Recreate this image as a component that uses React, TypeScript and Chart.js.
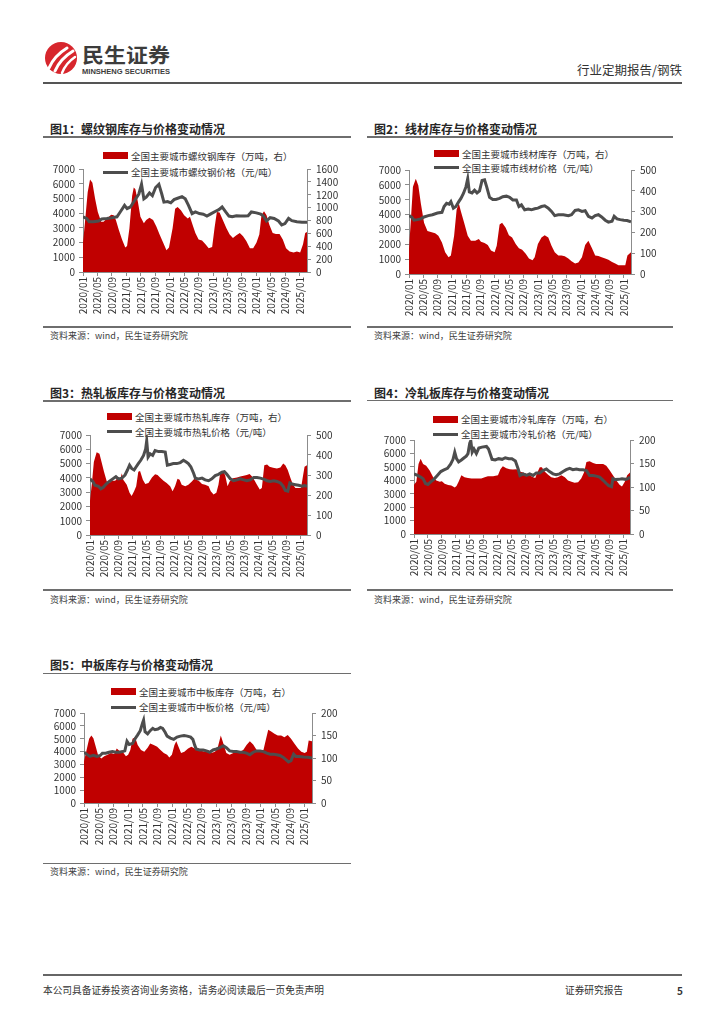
import React, { useEffect, useRef } from "react";
import { Chart, registerables } from "chart.js";

Chart.register(...registerables);

const FONT = "'Noto Sans CJK SC', 'Noto Sans', sans-serif";
Chart.defaults.font.family = FONT;

// ---------- shared axis data ----------
const xTickLabels = [
  "2020/01", "2020/05", "2020/09", "2021/01", "2021/05", "2021/09", "2022/01", "2022/05",
  "2022/09", "2023/01", "2023/05", "2023/09", "2024/01", "2024/05", "2024/09", "2025/01",
];
const X_LAST_MONTH = 62; // months after 2020/01 covered by the series
const leftMax = 7000;
const leftStep = 1000;

// ---------- 图1 螺纹钢 (month offset from 2020/01) ----------
const rebarInvMonth = [0,0.56,1.3,1.95,2.6,3.35,4.1,5.03,5.68,6.6,7.8,8.5,9.1,9.9,10.8,11.7,12.2,12.85,13.6,14.05,14.5,15.2,15.9,16.85,17.5,18.4,19.4,20.3,21.2,22.2,23.1,23.8,24.8,25.5,26.2,27.1,28.0,29.0,29.6,30.35,31.1,32.0,32.95,33.9,34.8,35.75,36.4,37.05,37.8,38.7,39.7,40.6,41.5,42.45,43.4,44.3,45.2,46.2,47.1,48.0,48.8,49.4,50.1,50.8,51.6,52.5,53.4,54.4,55.3,56.2,57.2,58.3,59.2,60.1,60.9,61.5,62];
const rebarInv = [455,782,1237,1438,1387,1136,933,782,782,832,891,882,807,656,505,379,405,681,1186,1312,1287,1086,857,757,807,843,807,706,581,455,338,379,681,983,1010,960,882,832,857,731,606,505,489,430,368,389,681,933,923,807,681,581,530,571,606,555,480,368,368,455,581,882,944,882,731,606,590,590,505,368,318,302,318,302,430,606,622];
const rebarPriceMonth = [0,1.0,1.7,2.9,4.3,5.2,6.6,8.0,9.4,10.3,11.5,12.2,13.1,14.3,15.45,16.2,16.85,17.5,18.4,19.2,20.1,21.0,21.8,22.4,23.4,24.3,25.2,26.2,27.4,28.3,29.2,30.2,31.1,32.2,33.3,34.3,35.5,36.7,37.6,38.5,39.5,40.4,41.3,42.45,43.6,44.8,45.7,46.6,48.0,49.2,49.9,50.8,51.8,52.9,54.1,55.0,55.9,56.9,57.8,59.2,60.6,62];
const rebarPrice = [3750,3640,3420,3420,3470,3600,3640,3690,3750,4080,4530,4310,4420,4860,5300,5960,4970,5080,5370,5190,5740,5960,5300,4750,4790,4700,4920,5010,5120,4970,4530,3970,4080,3970,3930,3800,3970,4130,4240,4420,4080,3800,3750,3820,3800,3800,3820,4080,4020,3930,3820,3470,3690,3640,3470,3200,3290,3640,3490,3420,3380,3380];

// ---------- 图2 线材 ----------
const wireInvMonth = [0,0.47,1.1,1.9,2.6,3.3,4.2,5.15,6.1,7.3,8.2,9.2,10.1,11.05,11.7,12.6,13.3,13.9,14.5,15.4,16.4,17.3,18.5,19.5,20.1,21.1,22.0,22.9,23.9,24.5,25.3,26.0,27.0,27.9,28.8,29.8,30.7,31.6,32.6,33.5,34.5,35.1,36.0,37.0,37.9,38.9,39.8,40.7,41.7,42.6,43.5,44.5,45.4,46.4,47.3,48.3,49.2,50.1,51.1,52.0,52.9,53.8,54.8,55.7,56.7,57.6,58.5,59.5,60.4,61.0,62];
const wireInv = [121,246,419,458,426,340,246,207,202,196,184,152,105,81,89,184,309,340,301,246,184,160,160,168,155,149,139,113,105,136,238,246,222,186,176,144,124,117,97,74,66,81,144,176,186,176,136,105,89,89,85,74,61,50,55,81,139,160,124,89,86,81,74,69,58,50,42,42,42,89,105];
const wirePriceMonth = [0,0.75,1.4,2.3,3.3,4.2,5.4,6.55,7.95,9.2,9.8,10.5,11.2,11.7,12.4,13.1,13.9,14.5,15.2,15.9,16.4,16.85,17.6,18.3,19.0,19.7,20.4,21.1,21.7,22.5,23.4,24.3,25.3,26.2,27.2,28.1,29.0,30.0,30.7,31.4,32.3,33.3,34.2,35.1,36.0,37.0,37.9,38.9,39.8,40.7,41.7,43.1,44.5,45.4,46.4,47.3,48.3,49.2,50.1,51.1,52.0,52.9,53.8,54.8,55.7,56.7,57.3,58.1,59.0,60.0,60.9,62];
const wirePrice = [3930,3820,3620,3660,3710,3840,3930,3990,4100,4150,4540,4760,4700,4870,4430,4540,4870,5090,5420,5860,6410,5530,5460,5640,5460,5590,6300,6340,5860,5160,5020,5020,5090,5200,5240,5160,4980,4980,4540,4650,4320,4370,4320,4390,4430,4540,4590,4430,4210,3930,3990,3990,3930,3990,4280,4320,4210,4260,3880,3770,3930,3990,3840,3620,3490,3550,3880,3710,3660,3620,3600,3510];

// ---------- 图3 热轧 ----------
const hrInvMonth = [0,0.5,1.1,1.9,2.7,3.3,4.0,4.8,5.5,6.2,7.2,7.8,8.6,9.1,9.5,10.5,11.3,11.9,12.6,13.2,13.8,14.3,15.1,15.8,16.7,17.7,18.6,19.3,20.0,21.0,21.9,22.9,23.6,24.3,25.0,25.6,26.2,27.2,28.1,29.1,29.8,30.5,31.3,32.0,32.9,33.9,34.5,35.3,36.1,36.7,37.2,38.0,38.6,39.3,39.9,40.8,42.0,42.9,43.9,44.8,45.6,46.3,46.9,47.7,48.5,49.1,49.8,50.6,51.3,52.3,53.4,54.4,55.2,55.8,56.5,57.3,58.0,58.7,59.6,60.3,60.9,61.3,62];
const hrInv = [171,251,365,414,406,365,316,268,260,271,271,284,276,309,276,251,211,195,219,244,316,320,276,255,260,287,304,300,287,271,260,244,219,244,281,276,251,244,251,268,281,276,268,255,251,244,219,203,211,251,309,316,300,244,268,284,287,292,296,300,305,292,276,251,227,235,349,353,341,336,333,338,357,349,325,284,251,235,235,235,300,341,349];
const hrPriceMonth = [0,0.8,1.4,2.4,3.1,3.8,4.6,5.5,6.5,7.4,8.1,9.1,10.0,10.7,11.3,11.9,12.6,13.2,13.8,14.5,15.3,15.9,16.2,16.6,17.2,17.9,18.6,19.6,20.5,21.5,22.1,22.9,23.8,24.8,25.8,26.7,27.5,28.1,28.8,29.6,30.1,31.0,32.0,32.9,33.9,34.8,35.8,36.7,37.7,38.4,39.1,40.1,41.0,42.0,42.9,43.9,44.8,45.8,46.8,47.7,48.7,49.6,50.6,51.5,52.5,53.4,54.4,55.2,55.8,56.5,57.1,57.7,58.7,59.6,60.6,61.3,62];
const hrPrice = [3930,3750,3480,3410,3230,3340,3570,3750,3930,4090,3930,3980,4200,4550,4890,4660,4550,4780,5000,5230,5570,6020,6590,5460,5680,5570,5910,5840,5840,5800,4890,4940,5000,5000,5070,5230,5110,5000,4780,4320,3980,3930,3980,3860,3800,3930,4160,4250,4390,4430,4250,3930,3800,3860,3930,3860,3800,3860,4020,4020,3980,3910,3800,3750,3800,3750,3640,3410,3110,3070,3640,3570,3520,3480,3410,3460,3410];

// ---------- 图4 冷轧 ----------
const crInvMonth = [0,0.67,1.3,1.9,2.6,3.5,4.5,5.5,6.4,7.4,8.0,8.8,9.8,10.7,11.7,12.2,12.8,13.6,14.5,15.5,16.5,17.9,19.3,20.3,21.2,22.7,24.1,24.8,25.5,26.5,27.5,28.4,29.4,30.3,31.3,32.3,33.2,34.2,34.8,35.4,36.1,36.7,37.5,38.5,39.4,40.4,41.3,42.3,43.3,44.2,45.2,46.1,47.1,48.0,48.8,49.5,50.4,51.4,52.3,53.3,54.3,55.2,56.2,57.1,58.1,59.0,59.7,60.5,61.2,62];
const crInv = [105,111,149,160,149,145,135,121,114,111,112,107,104,103,99,102,111,125,121,119,118,118,118,121,123,123,125,138,144,140,138,137,138,133,131,128,125,121,119,131,142,142,133,126,121,119,121,125,121,114,111,109,110,118,131,153,155,151,149,149,149,145,135,125,114,105,101,111,125,131];
const crPriceMonth = [0,1.0,1.9,2.6,3.3,4.0,4.8,5.7,6.7,7.7,8.6,9.6,10.5,11.2,11.7,12.2,12.8,13.6,14.4,15.0,15.5,16.0,16.3,16.7,17.2,17.9,18.6,19.5,20.8,21.4,22.4,23.3,24.3,25.3,26.2,27.2,28.1,29.1,29.9,30.4,31.3,32.3,33.2,34.2,35.1,36.1,37.0,38.0,38.9,39.9,40.8,41.8,42.8,43.7,44.7,45.6,46.6,47.5,48.5,49.5,50.4,51.4,52.3,53.3,54.3,55.2,55.9,56.7,57.1,57.8,58.8,59.7,60.7,61.4,62];
const crPrice = [4480,4360,4240,4120,3760,3690,3880,4070,4360,4650,4770,4890,5200,5560,6090,5610,5370,5510,5680,5800,5990,6760,6950,6090,6330,5990,6400,6470,6520,6330,5560,5510,5610,5560,5680,5610,5610,5440,4840,4360,4480,4360,4480,4360,4550,4550,4720,4840,4650,4480,4410,4480,4650,4790,4890,4790,4840,4790,4790,4720,4360,4360,4310,4240,4000,3760,3600,3520,4120,4050,4070,4120,4070,4120,4240];

// ---------- 图5 中板 ----------
const plateInvMonth = [0,0.7,1.4,2.0,2.55,3.2,3.8,4.7,5.5,6.4,7.3,8.2,8.9,9.6,10.5,11.4,12.0,12.6,13.2,13.9,14.6,15.5,16.4,17.3,18.0,18.96,19.9,20.8,21.7,22.6,23.2,23.9,24.6,25.1,25.7,26.4,27.3,28.3,29.2,30.1,31.0,31.9,32.8,33.7,34.6,35.6,36.3,37.2,37.9,38.7,39.6,40.6,41.5,42.4,43.3,44.2,45.1,46.0,46.95,47.9,48.8,49.4,50.1,50.9,51.8,52.7,53.6,54.5,55.4,56.3,57.2,58.2,59.1,60.0,60.6,61.1,62];
const plateInv = [93,118,143,150,144,125,107,99,104,107,111,109,121,116,114,104,107,118,143,146,129,118,114,123,132,129,125,118,111,107,101,107,129,137,125,111,114,121,125,121,118,116,114,118,111,114,121,150,132,111,107,111,111,114,118,129,137,130,118,114,118,139,163,159,154,150,150,146,151,143,132,121,114,111,114,139,137];
const platePriceMonth = [0,0.7,1.6,2.55,3.5,4.4,5.0,5.9,6.8,7.7,8.7,9.6,10.5,11.1,11.7,12.3,13.2,13.9,14.6,15.3,15.95,16.2,16.6,17.3,18.0,18.7,19.3,20.1,20.8,21.4,22.06,22.6,23.5,24.4,25.3,26.2,27.2,28.1,29.0,29.6,30.1,30.5,31.4,32.4,33.3,34.2,35.1,36.0,36.9,37.9,38.7,39.6,40.6,41.5,42.4,43.3,44.2,45.1,46.0,46.95,47.9,48.8,49.7,50.6,51.5,52.4,53.3,54.2,54.9,55.6,56.3,57.0,57.6,58.5,59.7,60.9,62];
const platePrice = [3950,3800,3625,3700,3625,3700,3875,3875,3950,4000,3950,3950,4000,4050,4800,4550,4625,5000,5300,5625,6250,6450,5550,5375,5625,5800,5700,5750,5875,5800,5500,5200,5050,4950,5125,5200,5250,5200,5125,4950,4500,4200,4125,4125,4050,3950,4125,4200,4300,4450,4300,4050,4000,4000,3950,3950,3875,3750,3950,4050,4050,4000,3875,3800,3800,3750,3700,3550,3375,3200,3300,3800,3625,3625,3575,3550,3500];

// ---------- styles ----------
const INV_COLOR = "#C00000";
const PRICE_COLOR = "#4D4D4D";
const AXIS_COLOR = "#8C8C8C";
const TICK_COLOR = "#333333";
const RULE_COLOR = "#6E6E6E";
const TOP_PAD = 8;
const X_AXIS_H = 50;

function zip(xs: number[], ys: number[]) {
  const n = Math.min(xs.length, ys.length);
  const out: { x: number; y: number }[] = [];
  for (let i = 0; i < n; i++) out.push({ x: xs[i], y: ys[i] });
  return out;
}

type PanelCfg = {
  colLeft: number; colRight: number;
  titleY: number; ruleY: number; sepY: number; sourceY: number;
  title: string; invLabel: string; priceLabel: string;
  legendX: number; legendY1: number; legendY2: number;
  plot: { l: number; r: number; t: number; b: number };
  rightMax: number; rightStep: number;
  invMonth: number[]; inv: number[]; priceMonth: number[]; price: number[];
};

const panels: PanelCfg[] = [
  {
    colLeft: 43, colRight: 351, titleY: 129, ruleY: 137, sepY: 327, sourceY: 336,
    title: "图1：螺纹钢库存与价格变动情况",
    invLabel: "全国主要城市螺纹钢库存（万吨，右）", priceLabel: "全国主要城市螺纹钢价格（元/吨）",
    legendX: 103, legendY1: 155.5, legendY2: 172,
    plot: { l: 83, r: 307, t: 166, b: 272 },
    rightMax: 1600, rightStep: 200,
    invMonth: rebarInvMonth, inv: rebarInv, priceMonth: rebarPriceMonth, price: rebarPrice,
  },
  {
    colLeft: 367, colRight: 673, titleY: 129, ruleY: 137, sepY: 327, sourceY: 336,
    title: "图2：线材库存与价格变动情况",
    invLabel: "全国主要城市线材库存（万吨，右）", priceLabel: "全国主要城市线材价格（元/吨）",
    legendX: 434, legendY1: 153.5, legendY2: 167.5,
    plot: { l: 409, r: 631, t: 167, b: 274 },
    rightMax: 500, rightStep: 100,
    invMonth: wireInvMonth, inv: wireInv, priceMonth: wirePriceMonth, price: wirePrice,
  },
  {
    colLeft: 43, colRight: 351, titleY: 393, ruleY: 401, sepY: 590, sourceY: 600,
    title: "图3：热轧板库存与价格变动情况",
    invLabel: "全国主要城市热轧库存（万吨，右）", priceLabel: "全国主要城市热轧价格（元/吨）",
    legendX: 107, legendY1: 416.7, legendY2: 431.7,
    plot: { l: 90, r: 307, t: 432, b: 535 },
    rightMax: 500, rightStep: 100,
    invMonth: hrInvMonth, inv: hrInv, priceMonth: hrPriceMonth, price: hrPrice,
  },
  {
    colLeft: 367, colRight: 673, titleY: 393, ruleY: 400.5, sepY: 590, sourceY: 600,
    title: "图4：冷轧板库存与价格变动情况",
    invLabel: "全国主要城市冷轧库存（万吨，右）", priceLabel: "全国主要城市冷轧价格（元/吨）",
    legendX: 433, legendY1: 419, legendY2: 434.3,
    plot: { l: 414, r: 630, t: 437, b: 534 },
    rightMax: 200, rightStep: 50,
    invMonth: crInvMonth, inv: crInv, priceMonth: crPriceMonth, price: crPrice,
  },
  {
    colLeft: 43, colRight: 351, titleY: 665, ruleY: 673.3, sepY: 863.3, sourceY: 872,
    title: "图5：中板库存与价格变动情况",
    invLabel: "全国主要城市中板库存（万吨，右）", priceLabel: "全国主要城市中板价格（元/吨）",
    legendX: 111, legendY1: 691.7, legendY2: 707.3,
    plot: { l: 84, r: 312, t: 710, b: 803 },
    rightMax: 200, rightStep: 50,
    invMonth: plateInvMonth, inv: plateInv, priceMonth: platePriceMonth, price: platePrice,
  },
];

function T(props: {
  x: number; y: number; size: number; children: React.ReactNode;
  bold?: boolean; color?: string; right?: boolean;
}) {
  const { x, y, size, bold, color, right, children } = props;
  const lh = Math.round(size * 1.3);
  const style: React.CSSProperties = {
    position: "absolute",
    top: y - lh / 2,
    height: lh,
    lineHeight: lh + "px",
    fontSize: size,
    fontWeight: bold ? 700 : 400,
    color: color || "#333",
    whiteSpace: "nowrap",
    fontFamily: FONT,
  };
  if (right) style.right = 724 - x;
  else style.left = x;
  return <div style={style}>{children}</div>;
}

function HLine({ x1, x2, y, color, w }: { x1: number; x2: number; y: number; color: string; w: number }) {
  return (
    <div style={{ position: "absolute", left: x1, top: y - w / 2, width: x2 - x1, height: w, background: color }} />
  );
}

function ChartCanvas({ cfg }: { cfg: PanelCfg }) {
  const ref = useRef<HTMLCanvasElement | null>(null);
  const w = cfg.colRight - cfg.colLeft;
  const h = cfg.plot.b - cfg.plot.t + TOP_PAD + X_AXIS_H;

  useEffect(() => {
    if (!ref.current) return;
    const tickFont = { family: FONT, size: 10 };
    const chart = new Chart(ref.current, {
      type: "line",
      data: {
        datasets: [
          {
            label: cfg.priceLabel,
            data: zip(cfg.priceMonth, cfg.price),
            yAxisID: "y",
            borderColor: PRICE_COLOR,
            backgroundColor: PRICE_COLOR,
            borderWidth: 3,
            pointRadius: 0,
            fill: false,
            tension: 0,
            order: 0,
          },
          {
            label: cfg.invLabel,
            data: zip(cfg.invMonth, cfg.inv),
            yAxisID: "y1",
            borderColor: INV_COLOR,
            backgroundColor: INV_COLOR,
            borderWidth: 0,
            pointRadius: 0,
            fill: "origin",
            tension: 0,
            order: 1,
          },
        ],
      },
      options: {
        responsive: false,
        animation: false,
        devicePixelRatio: 1,
        layout: { padding: { top: TOP_PAD, left: 0, right: 0, bottom: 0 } },
        plugins: { legend: { display: false }, tooltip: { enabled: false } },
        scales: {
          x: {
            type: "linear",
            min: 0,
            max: X_LAST_MONTH,
            afterBuildTicks: (s: any) => {
              s.ticks = xTickLabels.map((_, i) => ({ value: i * 4 }));
            },
            afterFit: (s: any) => {
              s.height = X_AXIS_H;
            },
            ticks: {
              autoSkip: false,
              minRotation: 90,
              maxRotation: 90,
              padding: 1,
              color: TICK_COLOR,
              font: tickFont,
              callback: (v: any) => xTickLabels[Math.round(Number(v) / 4)] ?? "",
            },
            grid: { drawOnChartArea: false, drawTicks: true, tickLength: 4, color: AXIS_COLOR },
            border: { display: true, color: AXIS_COLOR },
          },
          y: {
            type: "linear",
            position: "left",
            min: 0,
            max: leftMax,
            afterFit: (s: any) => {
              s.width = cfg.plot.l - cfg.colLeft;
            },
            ticks: {
              stepSize: leftStep,
              autoSkip: false,
              padding: 4,
              color: TICK_COLOR,
              font: tickFont,
              callback: (v: any) => String(v),
            },
            grid: { drawOnChartArea: false, drawTicks: true, tickLength: 4, color: AXIS_COLOR },
            border: { display: true, color: AXIS_COLOR },
          },
          y1: {
            type: "linear",
            position: "right",
            min: 0,
            max: cfg.rightMax,
            afterFit: (s: any) => {
              s.width = cfg.colRight - cfg.plot.r;
            },
            ticks: {
              stepSize: cfg.rightStep,
              autoSkip: false,
              padding: 5,
              color: TICK_COLOR,
              font: tickFont,
              callback: (v: any) => String(v),
            },
            grid: { drawOnChartArea: false, drawTicks: true, tickLength: 4, color: AXIS_COLOR },
            border: { display: true, color: AXIS_COLOR },
          },
        },
      },
    } as any);
    return () => chart.destroy();
  }, [cfg]);

  return (
    <canvas
      ref={ref}
      width={w}
      height={h}
      style={{ position: "absolute", left: cfg.colLeft, top: cfg.plot.t - TOP_PAD, width: w, height: h }}
    />
  );
}

function Panel({ cfg }: { cfg: PanelCfg }) {
  return (
    <>
      <T x={cfg.colLeft + 7} y={cfg.titleY} size={12} bold color="#262626">{cfg.title}</T>
      <HLine x1={cfg.colLeft} x2={cfg.colRight} y={cfg.ruleY} color={RULE_COLOR} w={1.2} />
      <div
        style={{ position: "absolute", left: cfg.legendX, top: cfg.legendY1 - 3.5, width: 25, height: 7, background: INV_COLOR }}
      />
      <T x={cfg.legendX + 28} y={cfg.legendY1} size={9.5}>{cfg.invLabel}</T>
      <div
        style={{ position: "absolute", left: cfg.legendX, top: cfg.legendY2 - 1.5, width: 25, height: 3, background: PRICE_COLOR }}
      />
      <T x={cfg.legendX + 28} y={cfg.legendY2} size={9.5}>{cfg.priceLabel}</T>
      <ChartCanvas cfg={cfg} />
      <HLine x1={cfg.colLeft} x2={cfg.colRight} y={cfg.sepY} color={RULE_COLOR} w={1.2} />
      <T x={cfg.colLeft + 7} y={cfg.sourceY} size={9} color="#404040">资料来源：wind，民生证券研究院</T>
    </>
  );
}

function Logo() {
  return (
    <svg style={{ position: "absolute", left: 40, top: 38 }} width={140} height={42} viewBox="0 0 140 42">
      <circle cx={21} cy={20} r={16} fill="#D7262D" />
      <path d="M9 30 Q14 18 27 10" stroke="#fff" strokeWidth={3} fill="none" strokeLinecap="round" />
      <path d="M15 33 Q20 21 33 13" stroke="#fff" strokeWidth={3} fill="none" strokeLinecap="round" />
      <path d="M22 35 Q26 25 35 19" stroke="#fff" strokeWidth={2.5} fill="none" strokeLinecap="round" />
      <text x={42} y={25} fontFamily={FONT} fontWeight={700} fontSize={20} fill="#3C3C3C" textLength={88} lengthAdjust="spacingAndGlyphs">
        民生证券
      </text>
      <text x={42} y={35.5} fontFamily="'Liberation Sans', Arial, sans-serif" fontWeight={700} fontSize={7.5} fill="#3C3C3C" textLength={88} lengthAdjust="spacingAndGlyphs">
        MINSHENG SECURITIES
      </text>
    </svg>
  );
}

export default function App() {
  return (
    <div style={{ position: "absolute", left: 0, top: 0, width: 724, height: 1024, background: "#fff", overflow: "hidden", fontFamily: FONT }}>
      <Logo />
      <T x={682} y={70} size={12.5} right color="#333">行业定期报告/钢铁</T>
      <HLine x1={43} x2={682} y={83} color="#555" w={1.5} />
      {panels.map((p, i) => (
        <Panel key={i} cfg={p} />
      ))}
      <HLine x1={43} x2={682} y={975} color="#666" w={1.2} />
      <T x={43} y={990} size={9.7} color="#333">本公司具备证券投资咨询业务资格，请务必阅读最后一页免责声明</T>
      <T x={565} y={990} size={9.7} color="#333">证券研究报告</T>
      <T x={677} y={990} size={10} bold color="#333">5</T>
    </div>
  );
}
